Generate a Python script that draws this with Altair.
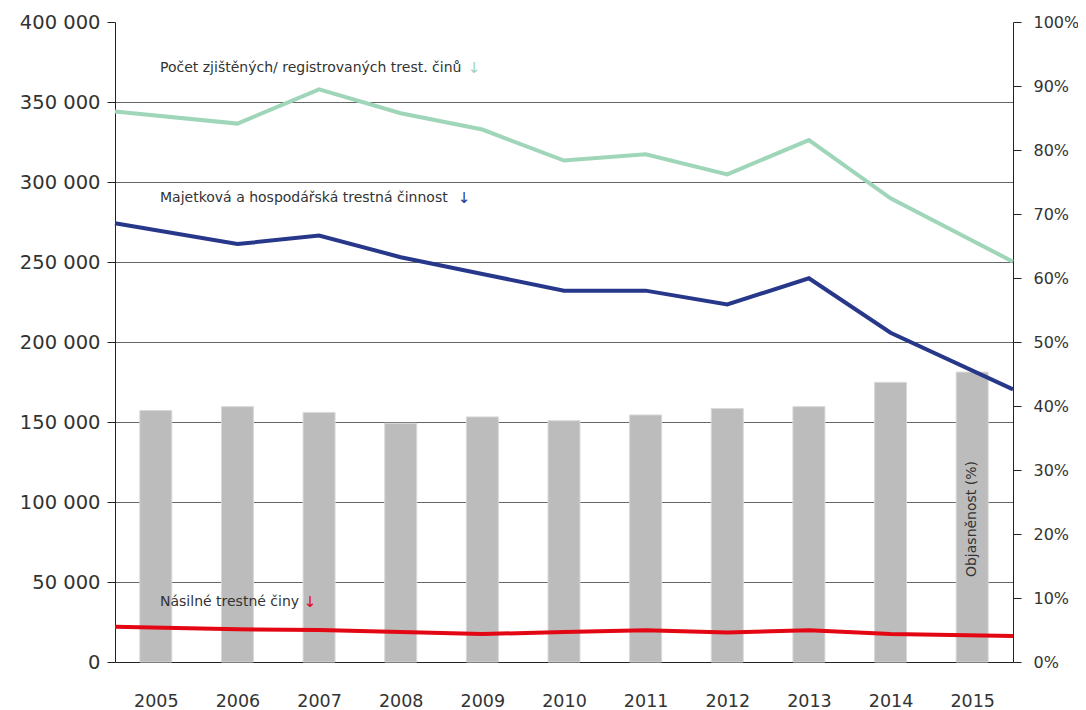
import altair as alt
import pandas as pd

years = [2005, 2006, 2007, 2008, 2009, 2010, 2011, 2012, 2013, 2014, 2015]
registered = [344000, 336500, 357900, 343000, 332800, 313400, 317300, 304800, 326200, 289800, 250200]
property_crime = [274200, 261200, 266500, 253000, 242500, 232100, 232100, 223500, 239800, 205800, 170400]
violent = [22100, 20400, 20000, 18700, 17500, 18700, 19800, 18500, 19800, 17500, 16300]
clearance_pct = [39.3, 39.9, 39.0, 37.3, 38.3, 37.7, 38.6, 39.6, 39.9, 43.7, 45.3]

series_names = ["Počet zjištěných/ registrovaných trest. činů",
                "Majetková a hospodářská trestná činnost",
                "Násilné trestné činy"]
series_colors = ["#9fd6b9", "#27388a", "#e30613"]

FONT = "DejaVu Sans"
TXT = "#333333"

bars_df = pd.DataFrame({"rok": years, "objasnenost": [v / 100 for v in clearance_pct]})
lines_df = pd.DataFrame({
    "rok": years * 3,
    "serie": [series_names[0]] * 11 + [series_names[1]] * 11 + [series_names[2]] * 11,
    "hodnota": registered + property_crime + violent,
})

x_scale = alt.Scale(domain=[2004.5, 2015.5], nice=False, zero=False, padding=0)
x_axis = alt.Axis(values=years, format="d", title=None, ticks=False, grid=False,
                  domain=True, domainColor="#222222", labelFontSize=17.5,
                  labelPadding=30, labelColor=TXT, labelFont=FONT)

bars = alt.Chart(bars_df).mark_bar(color="#bcbcbc", stroke="#d9d9d9", strokeWidth=1, size=32).encode(
    x=alt.X("rok:Q", scale=x_scale, axis=x_axis),
    y=alt.Y("objasnenost:Q", scale=alt.Scale(domain=[0, 1], nice=False),
            axis=alt.Axis(orient="right", format=".0%", values=[i / 10 for i in range(11)],
                          title=None, grid=False, tickSize=8, tickColor="#222222",
                          domainColor="#222222", labelPadding=12, labelFontSize=16,
                          labelColor=TXT, labelFont=FONT)),
)

obj_text = alt.Chart(pd.DataFrame({"rok": [2015], "t": ["Objasněnost (%)"]})).mark_text(
    angle=270, fontSize=14, font=FONT, color=TXT, align="center", baseline="middle"
).encode(
    x=alt.X("rok:Q", scale=x_scale, axis=x_axis),
    y=alt.value(497),
    text="t:N",
)

lines = alt.Chart(lines_df).transform_calculate(
    pos="datum.rok == 2005 ? 2004.5 : (datum.rok == 2015 ? 2015.5 : datum.rok)"
).mark_line(strokeWidth=4).encode(
    x=alt.X("pos:Q", scale=x_scale, axis=x_axis),
    y=alt.Y("hodnota:Q", scale=alt.Scale(domain=[0, 400000], nice=False),
            axis=alt.Axis(orient="left", values=list(range(0, 400001, 50000)), title=None,
                          labelExpr="datum.value == 0 ? '0' : floor(datum.value / 1000) + ' 000'",
                          grid=True, gridColor="#666666", gridWidth=1,
                          gridOpacity={"condition": {"test": "datum.value == 400000 || datum.value == 0", "value": 0}, "value": 1},
                          tickSize=8, tickColor="#222222", domainColor="#222222",
                          labelPadding=7, labelFontSize=19.5, labelColor=TXT, labelFont=FONT)),
    color=alt.Color("serie:N", scale=alt.Scale(domain=series_names, range=series_colors), legend=None),
    detail="serie:N",
)

ann_df = pd.DataFrame({
    "t": series_names,
    "px": [45, 45, 45],
    "py": [46, 176, 580],
})
ann = alt.Chart(ann_df).mark_text(align="left", baseline="middle", fontSize=14, font=FONT, color=TXT).encode(
    x=alt.X("px:Q", scale=None),
    y=alt.Y("py:Q", scale=None),
    text="t:N",
)

arrow_df = pd.DataFrame({
    "serie": series_names,
    "px": [359, 349, 195],
    "py": [46, 176, 580],
    "a": ["↓", "↓", "↓"],
})
arrows = alt.Chart(arrow_df).mark_text(align="center", baseline="middle", fontSize=15, font="DejaVu Sans").encode(
    x=alt.X("px:Q", scale=None),
    y=alt.Y("py:Q", scale=None),
    text="a:N",
    color=alt.Color("serie:N", scale=alt.Scale(domain=series_names, range=series_colors), legend=None),
)

chart = alt.layer(bars, obj_text, lines, ann, arrows).resolve_scale(y="independent").properties(
    width=898, height=640,
    padding={"left": 107, "top": 14, "right": 65, "bottom": 48},
    autosize=alt.AutoSizeParams(type="none"),
).configure_view(stroke=None)

chart.save("out.html", embed_options={"renderer": "svg", "actions": False})
